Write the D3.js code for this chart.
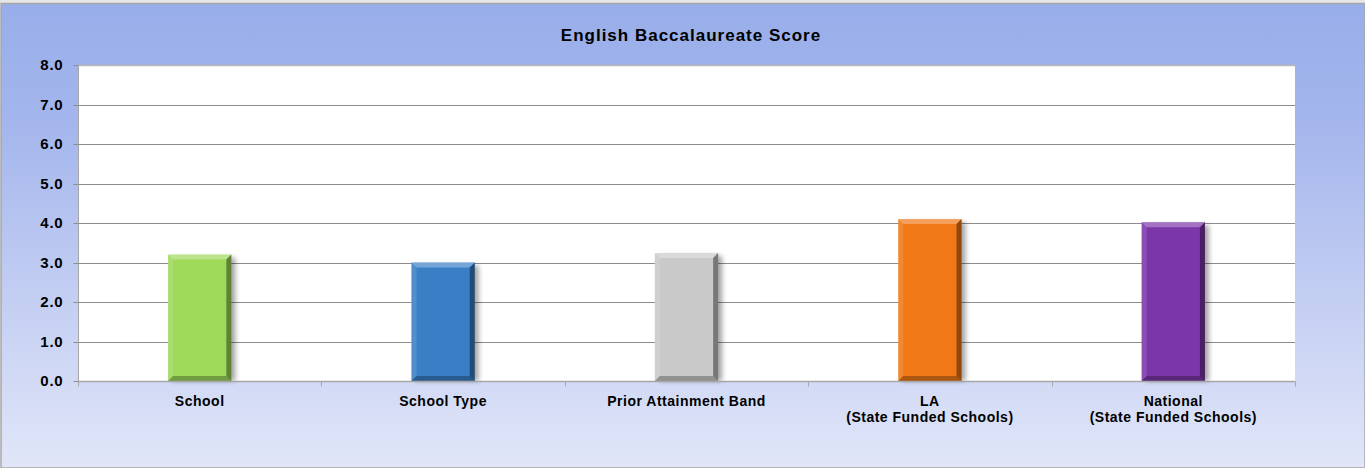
<!DOCTYPE html>
<html>
<head>
<meta charset="utf-8">
<script src="https://cdn.jsdelivr.net/npm/d3@7"></script>
<style>
  body { margin: 0; background: #fff; }
  text { font-family: "Liberation Sans", Arial, sans-serif; font-weight: bold; fill: #000; }
</style>
</head>
<body>
<div id="main"></div>
<script>
// chart data
const categories = ['School', 'School Type', 'Prior Attainment Band', 'LA|(State Funded Schools)', 'National|(State Funded Schools)'];
const values = [3.2, 3.0, 3.24, 4.1, 4.02];
const barColors = ['#9ed95a', '#3a7fc5', '#c9c9c9', '#f07816', '#7b36a9'];
const yTicks = [0, 1, 2, 3, 4, 5, 6, 7, 8];
const title = 'English Baccalaureate Score';

const svgWidth = 1365;
const svgHeight = 468;
const plot = { l: 78, r: 1295, t: 65, b: 381 };

const svg = d3.select('#main').append('svg')
  .attr('width', svgWidth)
  .attr('height', svgHeight);

const defs = svg.append('defs');
const bg = defs.append('linearGradient').attr('id', 'bg')
  .attr('x1', 0).attr('y1', 0).attr('x2', 0).attr('y2', 1);
bg.append('stop').attr('offset', '0%').attr('stop-color', '#98aeea');
bg.append('stop').attr('offset', '25%').attr('stop-color', '#a3b5ec');
bg.append('stop').attr('offset', '100%').attr('stop-color', '#e1e6f8');

const shadow = defs.append('filter').attr('id', 'shadow')
  .attr('x', '-20%').attr('y', '-5%').attr('width', '150%').attr('height', '115%');
shadow.append('feGaussianBlur').attr('stdDeviation', 2.5);

// background
svg.append('rect').attr('x', 0).attr('y', 0).attr('width', svgWidth).attr('height', 3).attr('fill', '#e6e6e6');
svg.append('rect')
  .attr('x', 1).attr('y', 3.5)
  .attr('width', svgWidth - 1).attr('height', svgHeight - 3.5)
  .attr('fill', 'url(#bg)')
  .attr('stroke', '#a6a6a6')
  .attr('stroke-width', 1.5);

svg.append('text')
  .attr('x', 691).attr('y', 41)
  .attr('text-anchor', 'middle')
  .style('font-size', '17px')
  .style('letter-spacing', '1px')
  .text(title);

// scales
const x = d3.scaleBand().domain(categories).range([plot.l, plot.r]).paddingInner(0.74).paddingOuter(0.37);
const y = d3.scaleLinear().domain([0, 8]).range([plot.b, plot.t]);

svg.append('rect')
  .attr('x', plot.l).attr('y', plot.t)
  .attr('width', plot.r - plot.l).attr('height', plot.b - plot.t)
  .attr('fill', '#fff');

// gridlines
svg.append('g').selectAll('line')
  .data(yTicks.filter(d => d > 0))
  .enter().append('line')
  .attr('x1', plot.l).attr('x2', plot.r)
  .attr('y1', d => Math.round(y(d)) + 0.5).attr('y2', d => Math.round(y(d)) + 0.5)
  .attr('stroke', d => d === 8 ? '#b8b8b8' : '#8c8c8c')
  .attr('stroke-width', d => d === 8 ? 1.5 : 1);

// y axis
const yAxis = svg.append('g')
  .attr('transform', `translate(${plot.l + 0.5},0.5)`)
  .call(d3.axisLeft(y).tickValues(yTicks).tickFormat(d3.format('.1f')).tickSize(5).tickPadding(10));
yAxis.select('.domain').attr('stroke', '#a6a6a6').attr('d', `M-5,${plot.t}H0V${plot.b}`);
yAxis.selectAll('.tick line').attr('stroke', '#8c8c8c');
yAxis.selectAll('.tick text').style('font-size', '15px').style('letter-spacing', '0.8px').attr('fill', '#000');
yAxis.selectAll('.tick').attr('transform', d => `translate(0,${Math.round(y(d))})`);

// bars
const bw = x.bandwidth();
const bev = 5;
const bars = svg.append('g').selectAll('g.bar')
  .data(categories.map((c, i) => ({ c, v: values[i], col: barColors[i] })))
  .enter().append('g').attr('class', 'bar');

bars.append('rect')
  .attr('x', d => x(d.c) + 4).attr('y', d => y(d.v) + 3)
  .attr('width', bw).attr('height', d => y(0) - y(d.v) - 3)
  .attr('fill', '#000').attr('opacity', 0.35)
  .attr('filter', 'url(#shadow)');

bars.append('rect')
  .attr('x', d => x(d.c)).attr('y', d => y(d.v))
  .attr('width', bw).attr('height', d => y(0) - y(d.v))
  .attr('fill', d => d.col);

// bevel faces
function face(d, side) {
  const x0 = x(d.c), x1 = x0 + bw, y0 = y(d.v), y1 = y(0);
  const p = {
    top: [[x0, y0], [x1, y0], [x1 - bev, y0 + bev], [x0 + bev, y0 + bev]],
    left: [[x0, y0], [x0 + bev, y0 + bev], [x0 + bev, y1 - bev], [x0, y1]],
    right: [[x1, y0], [x1, y1], [x1 - bev, y1 - bev], [x1 - bev, y0 + bev]],
    bottom: [[x0, y1], [x0 + bev, y1 - bev], [x1 - bev, y1 - bev], [x1, y1]]
  }[side];
  return 'M' + p.join('L') + 'Z';
}
const faceStyle = { top: ['#fff', 0.3], left: ['#fff', 0.12], right: ['#000', 0.4], bottom: ['#000', 0.28] };
Object.keys(faceStyle).forEach(side => {
  bars.append('path')
    .attr('d', d => face(d, side))
    .attr('fill', faceStyle[side][0])
    .attr('opacity', faceStyle[side][1]);
});

// x axis
const xAxisG = svg.append('g').attr('transform', `translate(0,${Math.round(y(0)) + 0.5})`);
xAxisG.append('line').attr('x1', plot.l).attr('x2', plot.r).attr('stroke', '#a6a6a6').attr('stroke-width', 1.5);
const bounds = categories.map(c => x(c) - x.step() * x.paddingInner() / 2).concat([plot.r]);
bounds[0] = plot.l;
xAxisG.selectAll('line.tick')
  .data(bounds)
  .enter().append('line').attr('class', 'tick')
  .attr('x1', d => Math.round(d) + 0.5).attr('x2', d => Math.round(d) + 0.5)
  .attr('y1', 0).attr('y2', 5)
  .attr('stroke', '#a6a6a6');

const labels = xAxisG.selectAll('text.lbl')
  .data(categories)
  .enter().append('text').attr('class', 'lbl')
  .attr('x', d => x(d) + bw / 2)
  .attr('y', 24)
  .attr('text-anchor', 'middle')
  .style('font-size', '14px')
  .style('letter-spacing', '0.5px');
labels.each(function(d) {
  const lines = d.split('|');
  lines.forEach((t, i) => {
    d3.select(this).append('tspan')
      .attr('x', x(d) + bw / 2)
      .attr('dy', i === 0 ? 0 : 16)
      .text(t);
  });
});
</script>
</body>
</html>
